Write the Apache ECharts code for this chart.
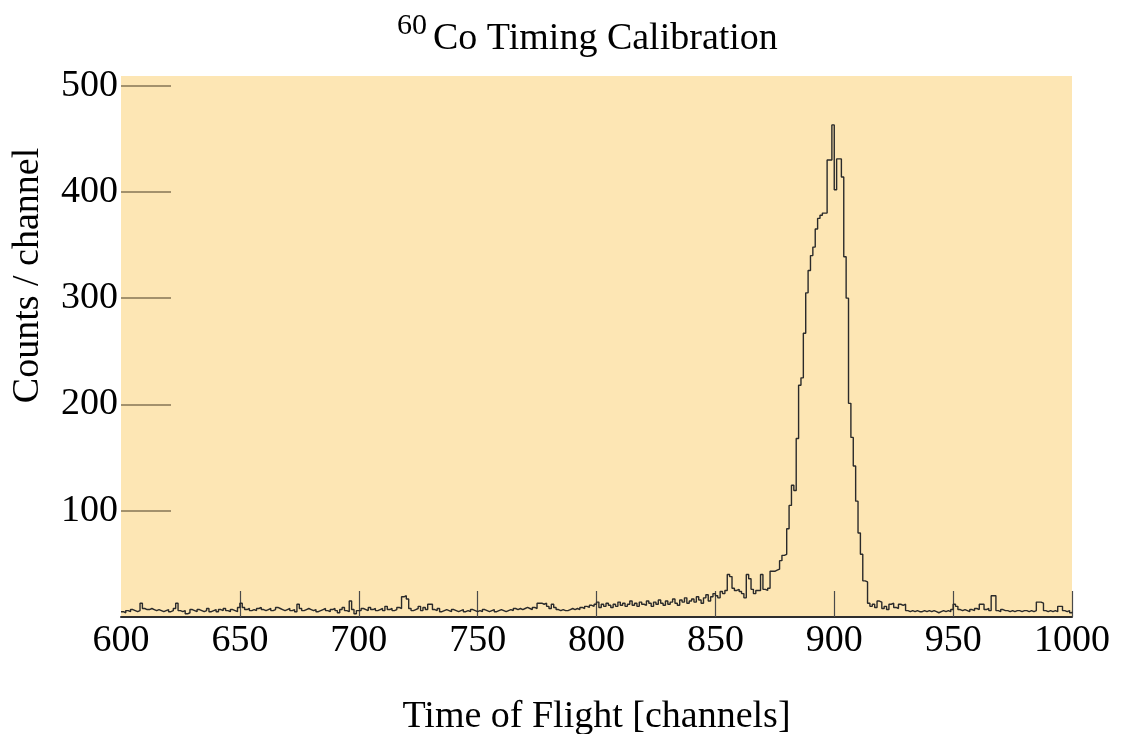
<!DOCTYPE html>
<html>
<head>
<meta charset="utf-8">
<title>60Co Timing Calibration</title>
<script src="https://cdn.jsdelivr.net/npm/echarts@6/dist/echarts.min.js"></script>
<style>
  html, body { margin: 0; padding: 0; background: #ffffff; }
  #chart { width: 1127px; height: 734px; }
</style>
</head>
<body>
<div id="chart"></div>
<script>
// Time-of-flight spectrum, one count value per channel, starting at channel 600.
const firstChannel = 600;

const counts600to649 = [5,4,6,5,7,6,5,6,13,8, 7,7,8,7,6,7,6,5,6,7, 5,6,8,13,6,5,6,3,4,7, 6,5,7,6,5,6,8,5,6,7, 5,7,6,8,6,5,7,6,5,9];
const counts650to699 = [13,9,7,8,6,7,6,8,9,7, 6,7,8,6,7,9,8,7,6,7, 8,6,7,5,12,8,6,7,8,7, 6,7,5,6,7,8,6,5,7,8, 6,4,7,9,6,5,15,7,3,6];
const counts700to749 = [6,8,7,6,9,7,8,6,7,8, 6,10,7,8,6,7,9,8,19,20, 17,8,6,7,8,10,6,9,7,12, 12,7,6,8,5,6,7,6,5,7, 6,5,6,7,5,6,5,7,6,5];
const counts750to799 = [6,5,7,6,5,6,7,5,6,7, 6,5,6,7,6,8,7,8,7,8, 9,8,7,9,8,13,13,12,13,10, 8,12,9,7,6,7,6,6,7,8, 7,8,7,9,8,10,9,11,10,12];
const counts800to849 = [14,9,12,10,13,11,9,12,10,14, 11,13,10,12,15,11,13,10,14,12, 11,15,13,10,14,12,16,13,11,15, 12,14,17,13,11,16,14,18,13,15, 17,14,19,16,13,18,21,15,19,22];
const counts850to879 = [20,18,24,22,25,40,38,27,25,26, 24,22,18,40,36,26,22,25,25,40, 26,25,27,43,43,44,45,53,58,59];
const counts880to915 = [83,105,124,119,168,218,225,267,305,326, 340,348,365,375,378,380,380,430,430,463, 402,431,431,414,339,300,201,169,142,109, 79,59,34,33,13,10];
const counts916to949 = [12,9,15,14,8,10,7,12,13,9, 8,12,11,12,6,5,6,5,6,5, 5,6,5,6,5,6,5,4,5,6, 5,6,5,7];
const counts950to1000 = [12,10,7,6,7,6,5,7,6,8, 7,12,12,7,8,6,20,20,6,5, 7,6,6,5,6,5,6,6,5,6, 6,5,6,5,6,14,14,13,6,5, 6,5,6,5,10,10,6,5,6,4, 5];

const xTickValues = [600, 650, 700, 750, 800, 850, 900, 950, 1000];
const xTickMarks = [650, 700, 750, 800, 850, 900, 950, 1000];
const yTickValues = [100, 200, 300, 400, 500];

const counts = [].concat(
  counts600to649, counts650to699, counts700to749, counts750to799,
  counts800to849, counts850to879, counts880to915, counts916to949, counts950to1000
);
const spectrum = counts.map((c, i) => [firstChannel + i, c]);

const serif = "'Liberation Serif', 'DejaVu Serif', serif";

const chart = echarts.init(document.getElementById('chart'), null, { renderer: 'canvas' });

chart.setOption({
  animation: false,
  backgroundColor: '#ffffff',
  title: [
    {
      text: '60',
      left: 392, top: 6,
      textStyle: { fontFamily: serif, fontSize: 30, fontWeight: 'normal', color: '#000' }
    },
    {
      text: 'Co Timing Calibration',
      left: 428, top: 15,
      textStyle: { fontFamily: serif, fontSize: 38, fontWeight: 'normal', color: '#000' }
    }
  ],
  grid: {
    left: 121, right: 55, top: 76, bottom: 117,
    outerBoundsMode: 'none',
    show: true, backgroundColor: '#fde6b4', borderWidth: 0
  },
  xAxis: {
    type: 'value',
    min: xTickValues[0], max: xTickValues[xTickValues.length - 1], interval: 50,
    name: 'Time of Flight [channels]',
    nameLocation: 'middle', nameGap: 81,
    nameTextStyle: { fontFamily: serif, fontSize: 38, color: '#000' },
    axisLine: { show: true, lineStyle: { color: '#2e2e2e', width: 2 } },
    axisTick: { show: true, inside: true, length: 26, customValues: xTickMarks,
                lineStyle: { color: '#4a4a4a', width: 1.2 } },
    axisLabel: {
      fontFamily: serif, fontSize: 38, color: '#000', margin: 5,
      customValues: xTickValues,
      formatter: (v) => String(v)
    },
    splitLine: { show: false }
  },
  yAxis: {
    type: 'value',
    min: 0, max: 509,
    name: 'Counts / channel',
    nameLocation: 'middle', nameGap: 74,
    nameTextStyle: { fontFamily: serif, fontSize: 38, color: '#000', padding: [0, 0, 0, 142] },
    axisLine: { show: false },
    axisTick: { show: true, inside: true, length: 50, customValues: yTickValues,
                lineStyle: { color: '#a3916c', width: 2 } },
    axisLabel: { fontFamily: serif, fontSize: 38, color: '#000', margin: 3, customValues: yTickValues },
    splitLine: { show: false }
  },
  series: [{
    type: 'line',
    step: 'end',
    data: spectrum,
    showSymbol: false,
    lineStyle: { color: '#2a2a2a', width: 1.4 },
    silent: true
  }]
});
</script>
</body>
</html>
